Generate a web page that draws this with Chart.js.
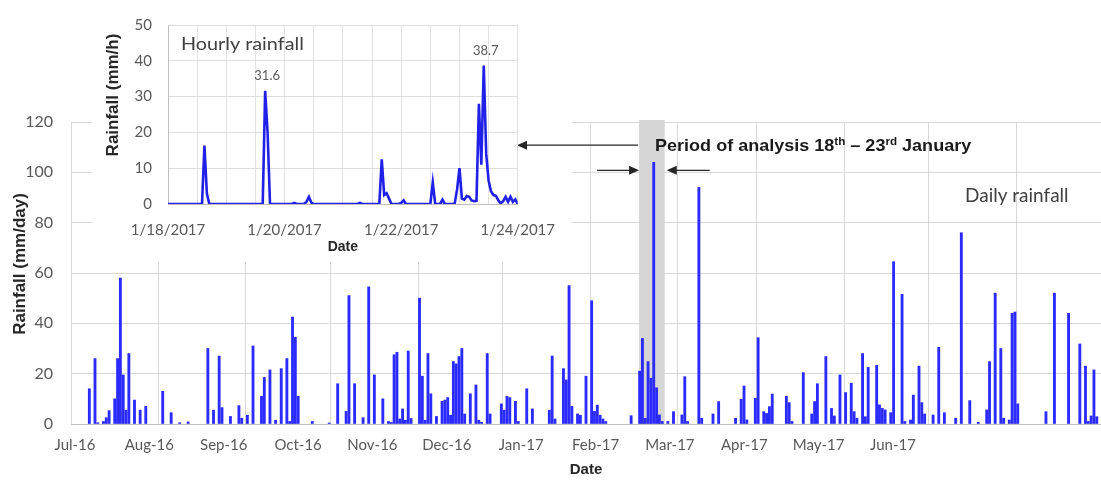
<!DOCTYPE html>
<html>
<head>
<meta charset="utf-8">
<title>Daily and hourly rainfall</title>
<script src="https://cdn.jsdelivr.net/npm/chart.js@4.4.1/dist/chart.umd.min.js"></script>
<style>
  html, body { margin: 0; padding: 0; background: #fff; overflow: hidden; }
  #wrap { position: relative; width: 1101px; height: 489px; }
  #daily { position: absolute; left: 0; top: 0; }
  #hourlyBox { position: absolute; left: 92px; top: 0; width: 480px; height: 262px; }
</style>
</head>
<body>
<div id="wrap">
  <canvas id="daily" width="1101" height="489"></canvas>
  <div id="hourlyBox"><canvas id="hourly" width="480" height="262"></canvas></div>
</div>
<script>
// ---- daily rainfall, July 2016 - June 2017 (day 0 = 1 Jul 2016) ----
const monthLabels = ['Jul-16', 'Aug-16', 'Sep-16', 'Oct-16', 'Nov-16', 'Dec-16',
                     'Jan-17', 'Feb-17', 'Mar-17', 'Apr-17', 'May-17', 'Jun-17'];
const monthStartDay = [0, 31, 62, 92, 123, 153, 184, 215, 243, 274, 304, 335];
const dayCount = 365;

// days with rain (index from 1 Jul 2016) and the rainfall on each, mm/day
const wetDay = [
  6, 8, 9, 11, 12, 13, 15, 16, 17, 18, 19, 20, 22, 24, 26, 32, 35, 38, 41, 48, 50,
  52, 53, 56, 59, 60, 62, 64, 67, 68, 70, 72, 74, 76, 77, 78, 79, 80, 85, 91,
  94, 97, 98, 100, 103, 105, 107, 110, 112, 113, 114, 115, 116, 117, 118, 119, 120,
  123, 124, 125, 126, 127, 129, 131, 132, 133, 134, 135, 136, 137, 138, 139, 141, 143, 144, 145, 147, 148,
  152, 153, 154, 155, 157, 158, 161, 163, 169, 170, 171, 174, 175, 176, 177, 179, 180, 182,
  184, 185, 186, 187, 188, 189, 198, 201, 202, 203, 204, 205, 206, 207, 208, 209, 211, 213,
  216, 217, 218, 222, 223, 227, 229, 235, 237, 238, 239, 242, 243, 245, 246, 247, 248,
  253, 254, 255, 259, 262, 263, 264, 267, 269, 270, 272, 274, 276, 277, 278, 280, 281, 282,
  285, 286, 287, 288, 290, 291, 294, 295, 297, 298, 300, 301, 302, 305, 307, 309,
  313, 315, 318, 321, 324, 325, 327, 329, 330, 332, 333, 334, 335, 345, 348, 353, 357, 359, 360, 361, 362, 363
];
const wetRain = [
  14, 26, 0.5, 1, 2.5, 5.3, 10, 26, 58, 19.5, 5.5, 28, 9.5, 5.5, 7, 13, 4.5, 0.5, 0.8, 30, 5.5,
  27, 6.5, 3, 7.3, 2.3, 3.5, 31, 11, 18.5, 21.5, 1.5, 22, 26, 1, 42.5, 34.5, 11, 1, 0.4,
  16, 5, 51, 16, 2.5, 54.5, 19.5, 10, 1, 0.6, 27.5, 28.5, 2, 6, 1.5, 29, 2.2,
  50, 19, 1.5, 28, 12, 3, 9, 9.5, 10.5, 3.5, 24.8, 23.9, 26.8, 30, 4, 12, 15.5, 1.5, 0.7, 28, 4,
  8, 5.5, 11, 10.5, 9, 1, 14, 6, 5.5, 27, 2, 22, 17.5, 55, 7, 4, 3.5, 19,
  49, 5, 7.5, 3.5, 2, 1, 3.3, 21, 34, 2.3, 24.8, 18.2, 104, 14.4, 3.6, 1, 1, 4.9,
  3.6, 18.8, 1, 94, 2.3, 4, 8.9, 2.3, 9.8, 15.1, 1.6, 10.2, 34.3, 4.9, 4.2, 6.9, 11.9,
  11, 8.5, 1, 20.4, 4, 8.9, 16, 26.8, 6.2, 3.2, 19.5, 12.5, 16.2, 4.9, 2.3, 28, 2.9, 22.5,
  23.3, 7.6, 6.2, 5.6, 4.5, 64.5, 51.5, 1, 1.6, 11.5, 23, 8.5, 4, 3.6, 30.5, 4.5,
  2.3, 76, 9.3, 0.7, 5.6, 24.8, 52, 30, 2.3, 1.6, 44, 44.5, 8, 4.9, 52, 44, 31.8, 23, 1, 3.2, 21.5, 2.9
];
const yTicksDaily = [0, 20, 40, 60, 80, 100, 120];

// shaded analysis window on the day axis (18-23 January)
const analysisSpan = [200.8, 209.9];

// ---- hourly rainfall, 18-23 January 2017 (hour 0 = 1/18/2017 00:00) ----
const hourlyDateLabels = ['1/18/2017', '1/20/2017', '1/22/2017', '1/24/2017'];
const hourCount = 145;
const wetHour = [
  15, 16, 40, 41, 52, 57, 58, 59, 79, 88, 89, 90, 91, 96, 97, 109, 113,
  119, 120, 121, 122, 123, 124, 125, 126, 127, 128, 129, 130, 131, 132, 133, 134,
  135, 136, 137, 138, 139, 140, 141, 142, 143
];
const wetHourRain = [
  16.3, 3, 31.6, 20, 0.3, 0.6, 2, 0.4, 0.3, 12.5, 2.5, 3, 1.5, 0.3, 1, 6, 1.2,
  4, 10, 1.5, 1.2, 2.2, 2, 1, 0.8, 0.9, 28, 11, 38.7, 14, 6.5, 3.5, 2.5,
  2.3, 1, 0.2, 0.8, 2, 0.6, 2, 0.6, 1.3
];
const labelledPeaks = [40, 130];   // hours whose value is printed

// ---- styling ----
const BAR_BLUE = '#2b2bff';
const LINE_BLUE = '#2020e8';
const GRID = '#d9d9d9';
const AXIS = '#bfbfbf';
const TICK = '#595959';
const SANS = 'Lato, "Liberation Sans", Arial, sans-serif';
const BOLD = '"Liberation Sans", Arial, sans-serif';

// inset panel (white card holding the hourly chart), page pixels
const insetPanel = { left: 92, top: 0, right: 572, bottom: 262 };

function drawText(ctx, str, x, y, font, color, align, sx) {
  ctx.save();
  ctx.font = font;
  ctx.fillStyle = color;
  ctx.textAlign = align || 'left';
  ctx.textBaseline = 'middle';
  ctx.translate(x, y);
  ctx.scale(sx || 1, 1);
  ctx.fillText(str, 0, 0);
  ctx.restore();
}

function drawVerticalTitle(ctx, str, x, y, font, color) {
  ctx.save();
  ctx.font = font;
  ctx.fillStyle = color;
  ctx.textAlign = 'center';
  ctx.textBaseline = 'middle';
  ctx.translate(x, y);
  ctx.rotate(-Math.PI / 2);
  ctx.fillText(str, 0, 0);
  ctx.restore();
}

function drawArrow(ctx, x1, y, x2) {
  const dir = Math.sign(x2 - x1);
  ctx.beginPath();
  ctx.moveTo(x1, y);
  ctx.lineTo(x2 - dir * 8, y);
  ctx.stroke();
  ctx.beginPath();
  ctx.moveTo(x2, y);
  ctx.lineTo(x2 - dir * 10, y - 4.5);
  ctx.lineTo(x2 - dir * 10, y + 4.5);
  ctx.closePath();
  ctx.fill();
}

// text with superscript pieces: [[text, isSuperscript], ...]
function drawSupText(ctx, parts, x, y, size, color, sx) {
  ctx.save();
  ctx.fillStyle = color;
  ctx.textBaseline = 'alphabetic';
  ctx.translate(x, y);
  ctx.scale(sx || 1, 1);
  let cx = 0;
  for (const [t, sup] of parts) {
    ctx.font = 'bold ' + (sup ? Math.round(size * 0.62) : size) + 'px ' + BOLD;
    ctx.fillText(t, cx, sup ? -size * 0.36 : 0);
    cx += ctx.measureText(t).width;
  }
  ctx.restore();
}

// ---------------- daily chart ----------------
const dailyDecor = {
  id: 'dailyDecor',
  beforeDatasetsDraw(chart) {
    const { ctx, chartArea, scales: { x, y } } = chart;
    const l = x.getPixelForValue(analysisSpan[0]);
    const r = x.getPixelForValue(analysisSpan[1]);
    const bottom = y.getPixelForValue(0);
    ctx.save();
    ctx.fillStyle = '#d6d6d6';
    ctx.fillRect(l, chartArea.top - 2, r - l, bottom - chartArea.top + 2);
    ctx.restore();
  },
  afterDatasetsDraw(chart) {
    const { ctx, scales: { x, y } } = chart;
    // white card behind the hourly inset
    ctx.save();
    ctx.fillStyle = '#ffffff';
    ctx.fillRect(insetPanel.left, insetPanel.top,
                 insetPanel.right - insetPanel.left, insetPanel.bottom - insetPanel.top);
    ctx.restore();

    const l = x.getPixelForValue(analysisSpan[0]);
    const r = x.getPixelForValue(analysisSpan[1]);
    ctx.save();
    ctx.strokeStyle = '#262626';
    ctx.fillStyle = '#262626';
    ctx.lineWidth = 1.3;
    const yTop = y.getPixelForValue(110.8);
    const yLow = y.getPixelForValue(100.8);
    drawArrow(ctx, l - 1, yTop, 517);
    drawArrow(ctx, l - 42, yLow, l);
    drawArrow(ctx, r + 45, yLow, r + 2);
    ctx.restore();

    drawSupText(ctx, [['Period of analysis 18', false], ['th', true], [' \u2013 23', false],
                      ['rd', true], [' January', false]], l + 16, yTop + 6, 17, '#1a1a1a', 1.06);
    drawText(ctx, 'Daily rainfall', 965, y.getPixelForValue(90.8), '19px ' + SANS, '#404040', 'left');
    drawVerticalTitle(ctx, 'Rainfall (mm/day)', 20.5, 264, 'bold 17px ' + BOLD, '#262626');
  }
};

new Chart(document.getElementById('daily'), {
  type: 'bar',
  data: {
    datasets: [{
      data: wetDay.map((d, i) => ({ x: d, y: wetRain[i] })),
      backgroundColor: BAR_BLUE,
      borderWidth: 0,
      barThickness: 2.2,
      xAxisID: 'x',
      yAxisID: 'y'
    }]
  },
  options: {
    responsive: false,
    animation: false,
    events: [],
    layout: { padding: { top: 122, right: 0, bottom: 0, left: 0 } },
    plugins: { legend: { display: false }, tooltip: { enabled: false } },
    scales: {
      x: {
        type: 'linear',
        position: 'bottom',
        offset: false,
        min: -0.5,
        max: dayCount - 0.5,
        afterBuildTicks: s => { s.ticks = monthStartDay.map(d => ({ value: d - 0.5 })); },
        ticks: { display: false },
        grid: { color: GRID, lineWidth: 1, drawTicks: false, offset: false },
        border: { display: false },
        afterFit: s => { s.height = 0; }
      },
      xMonth: {
        type: 'linear',
        position: 'bottom',
        offset: false,
        min: -0.0538,
        max: 13.797,
        afterBuildTicks: s => { s.ticks = monthLabels.map((_, i) => ({ value: i })); },
        ticks: {
          autoSkip: false, maxRotation: 0, padding: 12,
          color: TICK, font: { family: SANS, size: 15 },
          callback: v => monthLabels[v]
        },
        grid: { display: false, drawTicks: false, offset: false },
        border: { display: false },
        title: {
          display: true, text: 'Date', color: '#262626',
          font: { family: BOLD, size: 15, weight: 'bold' },
          padding: { top: 0, bottom: 10 }
        },
        afterFit: s => { s.height = 65; }
      },
      y: {
        min: 0,
        max: 120,
        afterBuildTicks: s => { s.ticks = yTicksDaily.map(v => ({ value: v })); },
        ticks: { color: TICK, font: { family: SANS, size: 16 }, padding: 18 },
        grid: {
          drawTicks: false, lineWidth: 1,
          color: c => (c.tick && c.tick.value === 0 ? AXIS : GRID)
        },
        border: { display: false },
        afterFit: s => { s.width = 71; }
      }
    }
  },
  plugins: [dailyDecor]
});

// ---------------- hourly inset ----------------
const hourlyRain = new Array(hourCount).fill(0);
wetHour.forEach((h, i) => { hourlyRain[h] = wetHourRain[i]; });

const hourlyDecor = {
  id: 'hourlyDecor',
  afterDatasetsDraw(chart) {
    const { ctx, scales: { x, y } } = chart;
    drawText(ctx, 'Hourly rainfall', 89, 44, '18px ' + SANS, '#404040', 'left', 1.1);
    labelledPeaks.forEach(h => {
      const v = hourlyRain[h];
      drawText(ctx, v.toFixed(1), x.getPixelForValue(h) + 2, y.getPixelForValue(v) - 15,
               '13px ' + SANS, TICK, 'center');
    });
    drawVerticalTitle(ctx, 'Rainfall (mm/h)', 21.3, 95, 'bold 17px ' + BOLD, '#262626');
  }
};

new Chart(document.getElementById('hourly'), {
  type: 'line',
  data: {
    datasets: [{
      data: hourlyRain.map((v, h) => ({ x: h, y: v })),
      borderColor: LINE_BLUE,
      borderWidth: 2.6,
      pointRadius: 0,
      tension: 0,
      fill: false
    }]
  },
  options: {
    responsive: false,
    animation: false,
    events: [],
    layout: { padding: { top: 17, right: 52, bottom: 0, left: 0 } },
    plugins: { legend: { display: false }, tooltip: { enabled: false } },
    scales: {
      x: {
        type: 'linear',
        min: 0,
        max: hourCount - 1,
        afterBuildTicks: s => {
          const t = [];
          for (let h = 0; h < hourCount; h += 12) t.push({ value: h });
          s.ticks = t;
        },
        ticks: {
          autoSkip: false, maxRotation: 0, padding: 17,
          color: TICK, font: { family: SANS, size: 15 },
          callback: v => (v % 48 === 0 ? hourlyDateLabels[v / 48] : '')
        },
        grid: { color: '#e2e2e2', drawTicks: false },
        border: { color: AXIS },
        title: {
          display: true, text: 'Date', color: '#262626',
          font: { family: BOLD, size: 14, weight: 'bold' },
          padding: { top: 0, bottom: 6.6 }
        },
        afterFit: s => { s.height = 58; }
      },
      y: {
        min: 0,
        max: 50,
        ticks: { stepSize: 10, color: TICK, font: { family: SANS, size: 15 }, padding: 16 },
        grid: { color: '#dedede', drawTicks: false },
        border: { color: AXIS },
        afterFit: s => { s.width = 76; }
      }
    }
  },
  plugins: [hourlyDecor]
});
</script>
</body>
</html>
